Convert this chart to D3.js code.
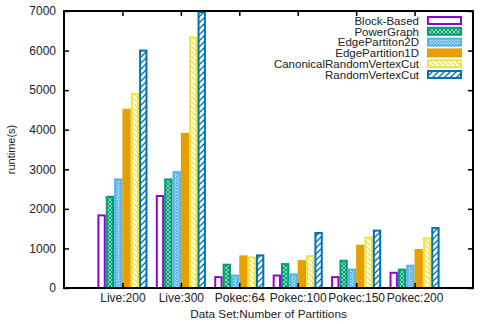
<!DOCTYPE html>
<html><head><meta charset="utf-8">
<script src="https://cdn.jsdelivr.net/npm/d3@7"></script>
<style>body{margin:0;background:#fff}svg{display:block}text{font-family:"Liberation Sans",Arial,sans-serif;fill:#222}</style>
</head><body><svg id="c" width="480" height="324"></svg>
<script>
const categories = ["Live:200","Live:300","Pokec:64","Pokec:100","Pokec:150","Pokec:200"];
const seriesNames = ["Block-Based","PowerGraph","EdgePartiton2D","EdgePartition1D","CanonicalRandomVertexCut","RandomVertexCut"];
const blockBased = [1860, 2350, 300, 340, 300, 410];
const powerGraph = [2330, 2770, 615, 630, 715, 490];
const edgePartition2D = [2770, 2955, 340, 370, 490, 590];
const edgePartition1D = [4530, 3920, 825, 705, 1095, 985];
const canonicalRVC = [4925, 6360, 800, 830, 1300, 1280];
const randomVertexCut = [6025, 7000, 850, 1415, 1475, 1540];
const yTicks = [0,1000,2000,3000,4000,5000,6000,7000];
const seriesValues = [blockBased, powerGraph, edgePartition2D, edgePartition1D, canonicalRVC, randomVertexCut];
const colors = ["#9400d3","#009e73","#56b4e9","#e69f00","#f0e442","#0072b2"];
const fills = ["#fff","url(#pGreen)","url(#pBlue2)","#e69f00","url(#pYellow)","url(#pBlue)"];

const svg = d3.select("#c");
const L=64, R=473, T=11, B=288;
const x = d3.scaleLinear().domain([-1,6]).range([L,R]);
const unit = x(1)-x(0);
const inner = d3.scaleBand().domain(d3.range(6)).range([-3/7*unit, 3/7*unit]);
const y = d3.scaleLinear().domain([0,7000]).range([B,T]);

const defs = svg.append("defs");
function hatch(id, color, size, paths, bg, sw){
  const p = defs.append("pattern").attr("id",id).attr("patternUnits","userSpaceOnUse").attr("width",size).attr("height",size);
  p.append("rect").attr("width",size).attr("height",size).attr("fill",bg||"#fff");
  paths.forEach(d=>p.append("path").attr("d",d).attr("stroke",color).attr("stroke-width",sw||1.2).attr("fill","none"));
}
hatch("pGreen","#009e73",4,["M0,0L4,4M-1,3L1,5M3,-1L5,1","M0,4L4,0M-1,1L1,-1M3,5L5,3"],"#fff",1.3);
hatch("pBlue2","#56b4e9",3,["M0,0L3,3M-1,2L1,4M2,-1L4,1","M0,3L3,0M-1,1L1,-1M2,4L4,2"],"#fff",1.1);
hatch("pYellow","#f0e442",5,["M0,0L5,5M-1,4L1,6M4,-1L6,1"],"#fff",1.3);
hatch("pBlue","#0072b2",6,["M0,6L6,0M-1,1L1,-1M5,7L7,5"],"#fff",1.3);

// bars
defs.append("clipPath").attr("id","plot").append("rect").attr("x",L).attr("y",T).attr("width",R-L).attr("height",B-T);
const g = svg.append("g").attr("clip-path","url(#plot)");
seriesValues.forEach((vals,j)=>{
  g.selectAll(null).data(vals).enter().append("rect")
    .attr("x",(d,i)=>x(i)+inner(j)+1)
    .attr("width",inner.bandwidth()-2)
    .attr("y",d=>y(d)+1)
    .attr("height",d=>Math.max(0,B-y(d)-1))
    .attr("fill",fills[j]).attr("stroke",colors[j]).attr("stroke-width",2);
});

// frame
svg.append("rect").attr("x",L).attr("y",T).attr("width",R-L).attr("height",B-T).attr("fill","none").attr("stroke","#000").attr("stroke-width",2);

const ff = "'Liberation Sans',Arial,sans-serif";
// y axis
const ya = svg.append("g").attr("transform",`translate(${L},0)`).call(d3.axisLeft(y).tickValues(yTicks).tickSize(-5).tickPadding(8).tickFormat(d3.format("d")));
ya.select(".domain").remove();
ya.selectAll("line").attr("stroke","#000").attr("stroke-width",1.5);
ya.selectAll("text").attr("font-size",12).style("font-family",ff).attr("fill","#222");
const yr = svg.append("g").attr("transform",`translate(${R},0)`).call(d3.axisRight(y).tickValues(yTicks).tickSize(-5).tickFormat(""));
yr.select(".domain").remove(); yr.selectAll("line").attr("stroke","#000").attr("stroke-width",1.5);

// x axis
const xTickVals = d3.range(6);
const xa = svg.append("g").attr("transform",`translate(0,${B})`).call(d3.axisBottom(x).tickValues(xTickVals).tickSize(-5).tickPadding(5).tickFormat(i=>categories[i]));
xa.select(".domain").remove();
xa.selectAll("line").attr("stroke","#000").attr("stroke-width",1.5);
xa.selectAll("text").attr("font-size",12).style("font-family",ff).attr("fill","#222");
const xt = svg.append("g").attr("transform",`translate(0,${T})`).call(d3.axisTop(x).tickValues(xTickVals).tickSize(-5).tickFormat(""));
xt.select(".domain").remove(); xt.selectAll("line").attr("stroke","#000").attr("stroke-width",1.5);

// axis labels
svg.append("text").attr("x",(L+R)/2).attr("y",318).attr("text-anchor","middle").attr("font-size",11.8).text("Data Set:Number of Partitions");
svg.append("text").attr("transform",`translate(15,${(T+B)/2}) rotate(-90)`).attr("text-anchor","middle").attr("font-size",11).text("runtime(s)");

// legend
const lg = svg.append("g");
seriesNames.forEach((n,j)=>{
  const cy = 20.5 + j*10.8;
  lg.append("text").attr("x",419).attr("y",cy+4.2).attr("text-anchor","end").attr("font-size",11.5).text(n);
  lg.append("rect").attr("x",428).attr("y",cy-3.5).attr("width",33).attr("height",7)
    .attr("fill",fills[j]).attr("stroke",colors[j]).attr("stroke-width",2);
});
</script></body></html>
